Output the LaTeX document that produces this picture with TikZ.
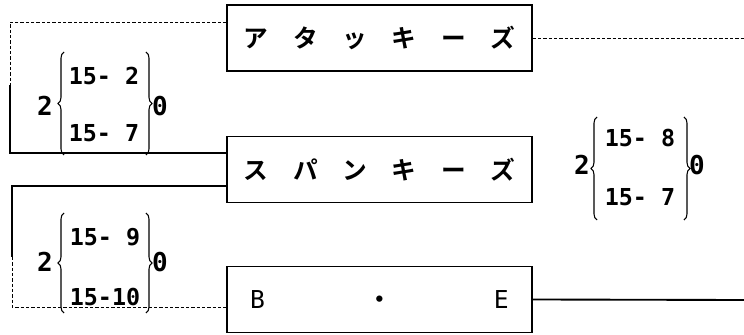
\documentclass[tikz,border=0pt]{standalone}
\usepackage{fontspec}
\usetikzlibrary{decorations.pathreplacing}
\newfontfamily\jpfont{Noto Sans CJK JP Bold}
\newfontfamily\numfont{DejaVu Sans Mono}

\tikzset{
  keybox/.style={draw, line width=1.1pt, minimum width=228.75pt, minimum height=49.5pt,
    inner sep=0pt, font=\jpfont\fontsize{18.5}{18.5}\selectfont},
  solidline/.style={line width=1.4pt},
  dotline/.style={line width=0.6pt, dash pattern=on 2.5pt off 1.5pt},
  curly/.style={decorate, decoration={brace, amplitude=4.5pt}, line width=0.8pt},
  num/.style={font=\numfont\bfseries\fontsize{17.5}{17.5}\selectfont, inner sep=0pt},
  bignum/.style={font=\numfont\bfseries\fontsize{19.5}{19.5}\selectfont, inner sep=0pt}
}

\begin{document}
\begin{tikzpicture}[x=0.75pt,y=-0.75pt]
\useasboundingbox (0,0) rectangle (744,335);
% the three keys
\node[keybox] (atk) at (379.5,38) {ア\hspace{18.5pt}タ\hspace{18.5pt}ッ\hspace{18.5pt}キ\hspace{18.5pt}ー\hspace{18.5pt}ズ};
\node[keybox] (spn) at (379.5,169.5) {ス\hspace{18.5pt}パ\hspace{18.5pt}ン\hspace{18.5pt}キ\hspace{18.5pt}ー\hspace{18.5pt}ズ};
\node[keybox] (bes) at (379.5,299.5) {\makebox[194pt]{{\numfont B}\hfill ・\hfill{\numfont E}}};

% corners of the left loops
\coordinate (lt) at (10,85);
\coordinate (lb) at (12,257);
\coordinate (rt) at (744,38);
\coordinate (rb) at (744,300);

\draw[dotline] ([yshift=12pt]atk.west) -| (lt);
\draw[solidline] (lt) |- ([yshift=12.4pt]spn.west);
\draw[solidline] ([yshift=-12.4pt]spn.west) -| (lb);
\draw[dotline] (lb) |- ([yshift=-5.6pt]bes.west);
\draw[dotline] (atk.east) -- (rt);
\draw[solidline] (bes.east) -- (rb);

% brace 1
\node[bignum] (atwo) at (45,106) {2};
\node[num] (aup) at (104,76) {15- 2};
\node[num] (alow) at (104,133) {15- 7};
\node[bignum] (azero) at (160,106) {0};
\draw[curly] (64,155) -- (64,52);
\draw[curly] (146,52) -- (146,155);

% brace 2
\node[bignum] (btwo) at (45,262) {2};
\node[num] (bup) at (105,237) {15- 9};
\node[num] (blow) at (105,297) {15-10};
\node[bignum] (bzero) at (160,262) {0};
\draw[curly] (64,313) -- (64,213);
\draw[curly] (146,213) -- (146,313);

% brace 3
\node[bignum] (ctwo) at (582,165) {2};
\node[num] (cup) at (640,138) {15- 8};
\node[num] (clow) at (640,197) {15- 7};
\node[bignum] (czero) at (697,165) {0};
\draw[curly] (597,220) -- (597,117);
\draw[curly] (684,117) -- (684,220);
\end{tikzpicture}
\end{document}
